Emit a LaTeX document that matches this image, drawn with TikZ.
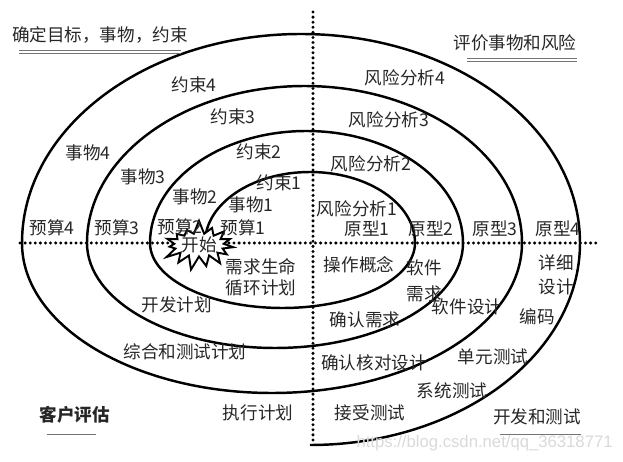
\documentclass[tikz,border=0pt]{standalone}
\usepackage{fontspec}
\setmainfont{Noto Sans CJK SC}
\newfontfamily\urlfont{Liberation Sans}
\usetikzlibrary{shapes.symbols}

\begin{document}
\begin{tikzpicture}[x=0.02cm, y=-0.02cm,
    every node/.style={inner sep=0pt, font=\fontsize{10}{12}\selectfont, text=black!85},
    spiral/.style={line width=1.4pt},
    axis/.style={line width=1.9pt, dash pattern=on 0pt off 2.9pt, line cap=round},
    uline/.style={black!55, line width=0.5pt}]
  \useasboundingbox (0,0) rectangle (623,462);
  \draw[axis] (20,243) -- (597,243);
  \draw[axis] (313,12) -- (313,440);
  \draw[spiral] (205,243)
    arc[start angle=180, end angle=360, x radius=105, y radius=71]
    arc[start angle=0, end angle=180, x radius=132.5, y radius=65]
    arc[start angle=180, end angle=360, x radius=156.5, y radius=112]
    arc[start angle=0, end angle=180, x radius=188, y radius=105]
    arc[start angle=180, end angle=360, x radius=217.5, y radius=157]
    arc[start angle=0, end angle=180, x radius=250, y radius=150]
    arc[start angle=180, end angle=360, x radius=279, y radius=209]
    arc[start angle=0, end angle=90, x radius=270, y radius=202];
  \node[starburst, draw, fill=white, line width=1.1pt, random starburst=7,
    starburst points=15, starburst point height=0.28cm,
    minimum width=1.2cm, minimum height=0.9cm] (start) at (199,245) {开始};

  \node (goal) at (100,35) {确定目标，事物，约束};
  \draw[uline] ([xshift=4pt,yshift=-4pt]goal.south west) -- ([xshift=-4pt,yshift=-4pt]goal.south east);
  \draw[uline] ([xshift=4pt,yshift=-5.5pt]goal.south west) -- ([xshift=-4pt,yshift=-5.5pt]goal.south east);
  \node (risk) at (515,43) {评价事物和风险};
  \draw[uline] ([xshift=8pt,yshift=-4pt]risk.south west) -- ([yshift=-4pt]risk.south east);
  \draw[uline] ([xshift=8pt,yshift=-5.5pt]risk.south west) -- ([yshift=-5.5pt]risk.south east);
  \node[font=\fontsize{10}{12}\selectfont\bfseries] (client) at (75,415) {客户评估};
  \draw[uline] ([xshift=4pt,yshift=-6pt]client.south west) -- ([xshift=-8pt,yshift=-6pt]client.south east);
  \node (devtest) at (537,417) {开发和测试};
  \draw[uline] ([xshift=4pt,yshift=-5pt]devtest.south west) -- ([yshift=-5pt]devtest.south east);

  \node (con4) at (194,85) {约束4};
  \node (con3) at (233,117) {约束3};
  \node (con2) at (259,152) {约束2};
  \node (con1) at (279,183) {约束1};
  \node (alt4) at (88,153) {事物4};
  \node (alt3) at (143,177) {事物3};
  \node (alt2) at (195,197) {事物2};
  \node (alt1) at (251,205) {事物1};
  \node (bud4) at (52,228) {预算4};
  \node (bud3) at (117,228) {预算3};
  \node (bud2) at (180,227) {预算2};
  \node (bud1) at (243,228) {预算1};
  \node (ra4) at (405,78) {风险分析4};
  \node (ra3) at (389,120) {风险分析3};
  \node (ra2) at (371,164) {风险分析2};
  \node (ra1) at (357,209) {风险分析1};
  \node (pro1) at (367,229) {原型1};
  \node (pro2) at (431,229) {原型2};
  \node (pro3) at (495,229) {原型3};
  \node (pro4) at (558,229) {原型4};

  \node[align=center] (lcp) at (261,277) {需求生命\\循环计划};
  \node (devplan) at (177,305) {开发计划};
  \node (intplan) at (185,352) {综合和测试计划};
  \node (impl) at (258,413) {执行计划};
  \node (ops) at (359,265) {操作概念};
  \node[align=center] (swreq) at (424,281) {软件\\[3pt]需求};
  \node (swdes) at (467,307) {软件设计};
  \node (valreq) at (365,320) {确认需求};
  \node[align=center] (detdes) at (556,275) {详细\\[2pt]设计};
  \node (code) at (537,317) {编码};
  \node (unit) at (493,357) {单元测试};
  \node (verdes) at (374,363) {确认核对设计};
  \node (systest) at (452,391) {系统测试};
  \node (acctest) at (370,413) {接受测试};
  \node[anchor=east, font=\urlfont\fontsize{9.5}{11}\selectfont, text=black!15] (mark) at (613,443) {https://blog.csdn.net/qq\_36318771};
\end{tikzpicture}
\end{document}
